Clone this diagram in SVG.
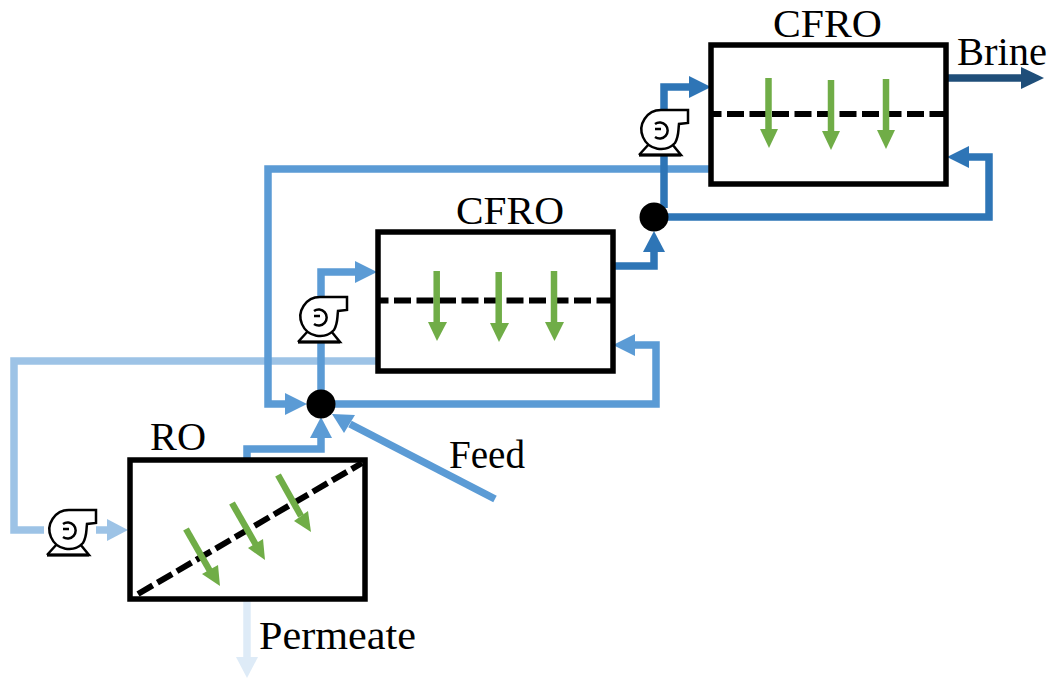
<svg xmlns="http://www.w3.org/2000/svg" width="1050" height="681" viewBox="0 0 1050 681">
<style>
.box{fill:none;stroke:#000;stroke-width:5.500}
.mem{fill:none;stroke:#000;stroke-width:6;stroke-dasharray:17 5.500}
.c{fill:none;stroke-width:7.500}
.g{stroke:#70ad47;stroke-width:6.500;fill:none}
.t{font-family:"Liberation Serif",serif;font-size:39px;fill:#000}
</style>
<defs>
<g id="pump">
<path d="M-22,25 L20,25 L11,14 M-22,25 L-12,14" fill="#fff" stroke="#000" stroke-width="2.500"/>
<path d="M27,-20 L27,-7 L18,-6 C17,2 18,6 14,13 A19.500,19.500 0 1 1 0,-20 Z" fill="#fff" stroke="#000" stroke-width="2.500"/>
<path d="M-6,-6 A8,8 0 1 1 -6,7 M-6,-1 H0" fill="none" stroke="#000" stroke-width="2.500"/>
<path d="M-22,25 L20,25" stroke="#000" stroke-width="3"/>
</g>
</defs>
<g id="connectors">
<path class="c" stroke="#9dc3e6" d="M378,361 H14 V530 H44"/>
<path class="c" stroke="#9dc3e6" d="M96,530 H110"/>
<path fill="#9dc3e6" d="M107,519 L128,530 L107,541 Z"/>
<path class="c" stroke="#5b9bd5" d="M710,169 H268 V404 H288"/>
<path fill="#5b9bd5" d="M285,393 L307,404 L285,415 Z"/>
<path class="c" stroke="#5b9bd5" d="M321,404 V272 H358"/>
<path fill="#5b9bd5" d="M355,261 L377,272 L355,283 Z"/>
<path class="c" stroke="#5b9bd5" d="M321,404 H656 V345 H632"/>
<path fill="#5b9bd5" d="M635,334 L613,345 L635,356 Z"/>
<path class="c" stroke="#5b9bd5" d="M247,461 V449 H321 V436"/>
<path fill="#5b9bd5" d="M310,438 L321,417 L332,438 Z"/>
<path class="c" stroke="#5b9bd5" d="M495,499 L350,424"/>
<path fill="#5b9bd5" d="M355,415 L332,414 L344,433 Z"/>
<path class="c" stroke="#2e75b6" d="M613,266 H654 V250"/>
<path fill="#2e75b6" d="M643,252 L654,231 L665,252 Z"/>
<path class="c" stroke="#2e75b6" d="M664,208 V87 H692"/>
<path fill="#2e75b6" d="M689,76 L711,87 L689,98 Z"/>
<path class="c" stroke="#2e75b6" d="M654,217 H989 V157 H966"/>
<path fill="#2e75b6" d="M969,146 L947,157 L969,168 Z"/>
<path class="c" stroke="#1f4e79" d="M947,78 H1024"/>
<path fill="#1f4e79" d="M1021,67 L1044,78 L1021,89 Z"/>
<path class="c" stroke="#deebf7" d="M247,600 V660"/>
<path fill="#deebf7" d="M236,657 L247,678 L258,657 Z"/>
</g>
<g id="ro">
<rect class="box" x="130" y="460" width="235" height="139"/>
<path class="mem" d="M138,594 L362,463"/>
<g class="g"><path d="M186,529 L210,571"/><path d="M232,503 L256,545"/><path d="M278,475 L301,516"/></g>
<g fill="#70ad47"><path d="M202,574 L220,586 L218,565 Z"/><path d="M248,548 L265,560 L263,539 Z"/><path d="M294,521 L311,532 L308,511 Z"/></g>
<text class="t" x="150" y="450" textLength="56" lengthAdjust="spacingAndGlyphs">RO</text>
</g>
<g id="cfro1">
<rect class="box" x="378" y="232" width="235" height="139"/>
<path class="mem" d="M380,300.500 H611" stroke-dashoffset="8.500"/>
<g class="g"><path d="M436.700,271 V323"/><path d="M498.700,272 V324"/><path d="M554,271 V323"/></g>
<g fill="#70ad47"><path d="M428,322 L437,341 L447,322 Z"/><path d="M490,323 L499,342 L509,323 Z"/><path d="M545,322 L554.500,341 L564,322 Z"/></g>
<text class="t" x="456" y="224" textLength="108" lengthAdjust="spacingAndGlyphs">CFRO</text>
</g>
<g id="cfro2">
<rect class="box" x="711" y="45" width="235" height="139"/>
<path class="mem" d="M713,114 H944" stroke-dashoffset="8.500"/>
<g class="g"><path d="M768.500,78 V130"/><path d="M831,80 V132"/><path d="M886,79 V131"/></g>
<g fill="#70ad47"><path d="M760,129 L769,148 L778,129 Z"/><path d="M822,131 L831,150 L840,131 Z"/><path d="M877,130 L886,149 L895,130 Z"/></g>
<text class="t" x="773" y="37" textLength="109" lengthAdjust="spacingAndGlyphs">CFRO</text>
</g>
<g id="pump1"><use href="#pump" transform="translate(69,530)"/></g>
<g id="pump2"><use href="#pump" transform="translate(320,317)"/></g>
<g id="pump3"><use href="#pump" transform="translate(661,130)"/></g>
<g id="junction1"><circle cx="321" cy="404" r="14.500"/></g>
<g id="junction2"><circle cx="654" cy="217" r="14.500"/></g>
<g id="labels">
<text class="t" x="449" y="468" textLength="76" lengthAdjust="spacingAndGlyphs">Feed</text>
<text class="t" x="957" y="65" textLength="90" lengthAdjust="spacingAndGlyphs">Brine</text>
<text class="t" x="259" y="649" textLength="157" lengthAdjust="spacingAndGlyphs">Permeate</text>
</g>
</svg>
